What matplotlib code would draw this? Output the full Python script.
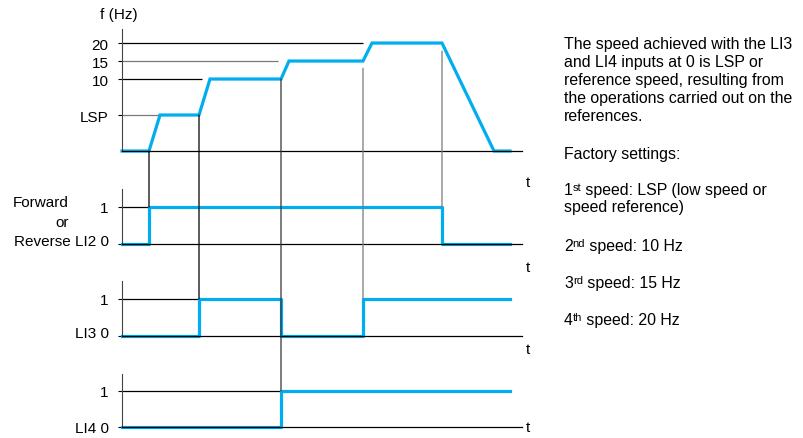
import matplotlib.pyplot as plt
from matplotlib.patches import ConnectionPatch
from matplotlib.transforms import offset_copy

plt.rcParams['font.family'] = ['Liberation Sans', 'DejaVu Sans']

W, H = 804, 439
BLUE = '#00aeef'
GREY = '#7a7a7a'

# speed profile: time points and schematic frequency levels (0, LSP, 10, 15, 20 Hz)
f_levels = [0, 2, 4, 5, 6]
f_labels = ['', 'LSP', '10', '15', '20']
t_f = [0, 2.7, 3.8, 7.7, 8.8, 15.9, 16.7, 24.1, 25.0, 32.0, 37.2, 38.8]
lvl_f = [0, 0, 2, 2, 4, 4, 5, 5, 6, 6, 0, 0]

# logic inputs (steps-post)
t_li2 = [0, 2.7, 32.0, 38.8]
li2 = [0, 1, 0, 0]
t_li3 = [0, 7.7, 15.9, 24.1, 38.8]
li3 = [0, 1, 0, 1, 1]
t_li4 = [0, 15.9, 38.8]
li4 = [0, 1, 1]

# reference lines of the frequency axis: (level, end time, colour)
f_refs = [(6, 24.1, 'k'), (5, 15.6, GREY), (4, 8.0, 'k'), (2, 3.8, GREY)]

TICK_LEN = 3.2
TICK_PAD = 6.5


def px_axes(top, bottom):
    return [122 / W, 1 - bottom / H, 400 / W, (bottom - top) / H]


fig = plt.figure(figsize=(W / 100, H / 100), dpi=100)
ax_f = fig.add_axes(px_axes(30, 152))
ax2 = fig.add_axes(px_axes(189.5, 245))
ax3 = fig.add_axes(px_axes(281.5, 337))
ax4 = fig.add_axes(px_axes(375, 428))

for ax in (ax_f, ax2, ax3, ax4):
    ax.set_xlim(0, 40)
    ax.set_xticks([])
    for s in ('top', 'right'):
        ax.spines[s].set_visible(False)
    ax.spines['left'].set_color('#444444')
    ax.spines['left'].set_linewidth(0.8)
    ax.spines['bottom'].set_linewidth(0.9)
    ax.tick_params(axis='y', direction='out', length=TICK_LEN, width=0.8,
                   pad=TICK_PAD, labelsize=11)
    ax.patch.set_alpha(0)

ax_f.set_ylim(0, 6.78)
ax_f.set_yticks(f_levels[1:])
ax_f.set_yticklabels(f_labels[1:])
for lvl, t_end, c in f_refs:
    ax_f.plot([0, t_end], [lvl, lvl], color=c, lw=0.9, solid_capstyle='butt')
ax_f.plot(t_f, lvl_f, color=BLUE, lw=2.3, clip_on=False, solid_joinstyle='miter')

ax2.set_ylim(0, 1.5)
ax3.set_ylim(0, 1.5)
ax4.set_ylim(0, 1.47)
panels = [(ax2, t_li2, li2, 'Reverse LI2 0'),
          (ax3, t_li3, li3, 'LI3 0'),
          (ax4, t_li4, li4, 'LI4 0')]
for ax, t, v, lab in panels:
    ax.set_yticks([0, 1])
    ax.set_yticklabels([lab, '1'])
    t_on = t[v.index(1)]
    ax.plot([0, t_on], [1, 1], color='k', lw=0.9)
    ax.plot(t, v, drawstyle='steps-post', color=BLUE, lw=2.3, clip_on=False)
# the "0" labels of LI2 and LI3 sit on their line
for ax in (ax2, ax3):
    lab0 = ax.get_yticklabels()[0]
    lab0.set_va('baseline')
    lab0.set_transform(offset_copy(ax.get_yaxis_transform(which='tick1'), fig=fig,
                                   x=-(TICK_LEN + TICK_PAD), y=-0.5, units='points'))

# vertical links between the speed curve and the inputs
links = [(2.7, 0, ax2, 'k'), (7.7, 2, ax3, 'k'), (15.9, 4, ax4, '#333333'),
         (24.1, 4.6, ax3, GREY), (32.0, 5.55, ax2, GREY)]
for t, y0, ax, c in links:
    con = ConnectionPatch(xyA=(t, y0), coordsA=ax_f.transData,
                          xyB=(t, 1), coordsB=ax.transData,
                          color=c, lw=0.9)
    fig.add_artist(con)


def ftext(x, y, s, **kw):
    return fig.text(x / W, 1 - y / H, s, **kw)


ftext(100, 15, 'f (Hz)', fontsize=11, va='center')
ftext(69, 203, 'Forward', fontsize=11, ha='right', va='center')
ftext(69, 223, 'or', fontsize=11, ha='right', va='center')
for y in (183, 268, 350, 428):
    ftext(526, y, 't', fontsize=11, va='center')

notes = [
    (49, 'The speed achieved with the LI3'),
    (67, 'and LI4 inputs at 0 is LSP or'),
    (85, 'reference speed, resulting from'),
    (103, 'the operations carried out on the'),
    (121, 'references.'),
    (159, 'Factory settings:'),
    (212, 'speed reference)'),
]
for y, s in notes:
    ftext(564, y, s, fontsize=11.4, va='baseline')

# speed list with ordinal suffixes set as small raised text
speeds = [
    (195, '1', 'st', ' speed: LSP (low speed or'),
    (251, '2', 'nd', ' speed: 10 Hz'),
    (288, '3', 'rd', ' speed: 15 Hz'),
    (325, '4', 'th', ' speed: 20 Hz'),
]
renderer = fig.canvas.get_renderer()
for y, num, suf, rest in speeds:
    x = 564
    t1 = ftext(x, y, num, fontsize=11.4, va='baseline')
    x += t1.get_window_extent(renderer).width
    t2 = ftext(x, y - 4, suf, fontsize=8, va='baseline')
    x += t2.get_window_extent(renderer).width
    ftext(x, y, rest, fontsize=11.4, va='baseline')

fig.savefig('out.png', dpi=100)
